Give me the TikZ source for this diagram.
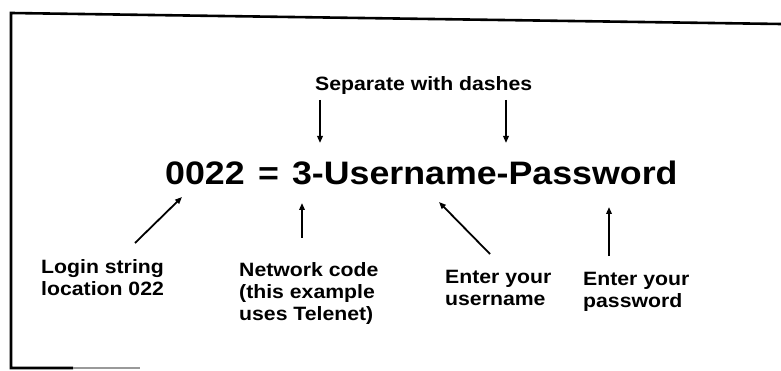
\documentclass[tikz,border=0pt]{standalone}
\usepackage{fontspec}
\setmainfont{Liberation Sans}[FakeStretch=1.1]
\usetikzlibrary{arrows.meta}
\tikzset{
  label/.style={font=\bfseries\fontsize{19.3}{22}\selectfont, inner sep=0pt, anchor=base west, align=left},
  formula/.style={font=\bfseries\fontsize{32.5}{36}\selectfont, inner sep=0pt, anchor=base west},
  pointer/.style={line width=1.8pt, -{Triangle[length=7pt,width=5.5pt]}},
  frame/.style={line width=2.6pt}
}
\begin{document}
\begin{tikzpicture}[x=1pt, y=-1pt]
\useasboundingbox (0,0) rectangle (781,371);
\fill[white] (0,0) rectangle (781,371);

% frame around the example
\draw[frame] (781,24) -- (11,13) -- (11,368) -- (73,368);
\draw[frame, black!40] (73,368) -- (140,368);

% the login string
\node[formula] (code) at (165,185) {0022\hspace{13.5pt}=\hspace{13pt}3-Username-Password};

% labels (anchored on the baseline of their last line)
\node[label] (sep) at (315,91) {Separate with dashes};
\node[label] (login) at (41,295) {Login string\\location 022};
\node[label] (net) at (239,320) {Network code\\(this example\\uses Telenet)};
\node[label] (user) at (445,305) {Enter your\\username};
\node[label] (pass) at (583,307) {Enter your\\password};

% arrow end points
\coordinate (d1a) at (320,100);  \coordinate (d1b) at (320,143);
\coordinate (d2a) at (506,100);  \coordinate (d2b) at (506,143);
\coordinate (la) at (135,243);   \coordinate (lb) at (182,197);
\coordinate (na) at (302,238);   \coordinate (nb) at (302,203);
\coordinate (ua) at (490,254);   \coordinate (ub) at (439,202);
\coordinate (pa) at (609,256);   \coordinate (pb) at (609,207);

\draw[pointer] (d1a) -- (d1b);
\draw[pointer] (d2a) -- (d2b);
\draw[pointer] (la) -- (lb);
\draw[pointer] (na) -- (nb);
\draw[pointer] (ua) -- (ub);
\draw[pointer] (pa) -- (pb);
\end{tikzpicture}
\end{document}
